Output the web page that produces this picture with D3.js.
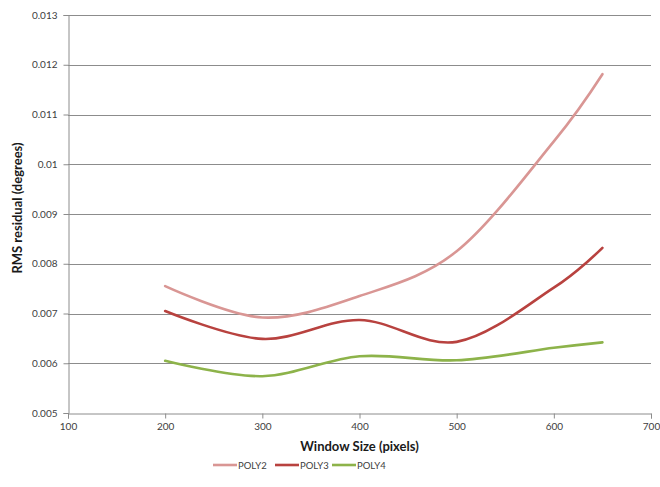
<!DOCTYPE html>
<html>
<head>
<meta charset="utf-8">
<script src="https://cdn.jsdelivr.net/npm/d3@7"></script>
<style>
  html, body { margin: 0; padding: 0; background: #fff; }
  svg { display: block; font-family: Lato, "Open Sans", sans-serif; }
</style>
</head>
<body>
<svg id="chart" width="660" height="487"></svg>
<script>
// Window sizes (pixels) and RMS residuals (degrees) per polynomial order
const windowSizes = [200, 300, 400, 500, 600, 650];
const poly2 = [0.00755, 0.00692, 0.00735, 0.00825, 0.01046, 0.01181];
const poly3 = [0.00705, 0.00649, 0.00687, 0.00643, 0.00752, 0.00832];
const poly4 = [0.00605, 0.00574, 0.00614, 0.00606, 0.00631, 0.00642];
const seriesNames = ["POLY2", "POLY3", "POLY4"];
const seriesColors = ["#D99694", "#B8423F", "#8DB34A"];
const xTicks = [100, 200, 300, 400, 500, 600, 700];
const yTicks = [0.005, 0.006, 0.007, 0.008, 0.009, 0.010, 0.011, 0.012, 0.013];

const series = [poly2, poly3, poly4].map((vals, i) => ({
  name: seriesNames[i],
  color: seriesColors[i],
  points: vals.map((v, j) => ({ x: windowSizes[j], y: v }))
}));

const svg = d3.select("#chart");
const plot = { left: 68, right: 651, top: 15, bottom: 413 };

const x = d3.scaleLinear().domain([100, 700]).range([plot.left, plot.right]);
const y = d3.scaleLinear().domain([0.005, 0.013]).range([plot.bottom, plot.top]);

// Horizontal gridlines
svg.append("g")
  .selectAll("line")
  .data(yTicks.slice(1))
  .join("line")
  .attr("x1", plot.left).attr("x2", plot.right)
  .attr("y1", d => Math.round(y(d)) + 0.5).attr("y2", d => Math.round(y(d)) + 0.5)
  .attr("stroke", "#8c8c8c").attr("stroke-width", 1);

// Y axis
const yAxis = svg.append("g")
  .attr("transform", `translate(${plot.left + 0.5},0)`)
  .call(d3.axisLeft(y).tickValues(yTicks).tickSize(5).tickPadding(6)
    .tickFormat(d => d3.format("")(+d.toFixed(3))));
yAxis.select(".domain").attr("stroke", "#8c8c8c");
yAxis.selectAll(".tick line").attr("stroke", "#8c8c8c");
yAxis.selectAll(".tick text")
  .attr("font-size", 10).attr("fill", "#404040")
  .attr("font-family", "Lato, 'Open Sans', sans-serif");

// X axis
const xAxis = svg.append("g")
  .attr("transform", `translate(0,${Math.round(plot.bottom) + 0.5})`)
  .call(d3.axisBottom(x).tickValues(xTicks).tickSize(5).tickPadding(4)
    .tickFormat(d3.format("d")));
xAxis.select(".domain").attr("stroke", "#8c8c8c");
xAxis.selectAll(".tick line").attr("stroke", "#8c8c8c");
xAxis.selectAll(".tick text")
  .attr("font-size", 10).attr("fill", "#404040")
  .attr("font-family", "Lato, 'Open Sans', sans-serif");

// Smoothed series lines
const line = d3.line()
  .x(d => x(d.x))
  .y(d => y(d.y))
  .curve(d3.curveCardinal.tension(0));

svg.append("g")
  .selectAll("path")
  .data(series)
  .join("path")
  .attr("d", d => line(d.points))
  .attr("fill", "none")
  .attr("stroke", d => d.color)
  .attr("stroke-width", 2.6)
  .attr("stroke-linecap", "round")
  .attr("stroke-linejoin", "round");

// Axis titles
svg.append("text")
  .attr("x", (plot.left + plot.right) / 2)
  .attr("y", 451)
  .attr("text-anchor", "middle")
  .attr("font-size", 13).attr("font-weight", "bold").attr("fill", "#1a1a1a")
  .text("Window Size (pixels)");

svg.append("text")
  .attr("transform", `translate(22,${(plot.top + plot.bottom) / 2 - 6}) rotate(-90)`)
  .attr("text-anchor", "middle")
  .attr("font-size", 13).attr("font-weight", "bold").attr("fill", "#1a1a1a")
  .text("RMS residual (degrees)");

// Legend
const legendX = [213, 275, 332];
const legend = svg.append("g")
  .selectAll("g")
  .data(series)
  .join("g")
  .attr("transform", (d, i) => `translate(${legendX[i]},465)`);
legend.append("line")
  .attr("x1", 0).attr("x2", 24).attr("y1", 0).attr("y2", 0)
  .attr("stroke", d => d.color).attr("stroke-width", 2.6);
legend.append("text")
  .attr("x", 25).attr("y", 3.5)
  .attr("font-size", 9.5).attr("fill", "#404040")
  .text(d => d.name);
</script>
</body>
</html>
